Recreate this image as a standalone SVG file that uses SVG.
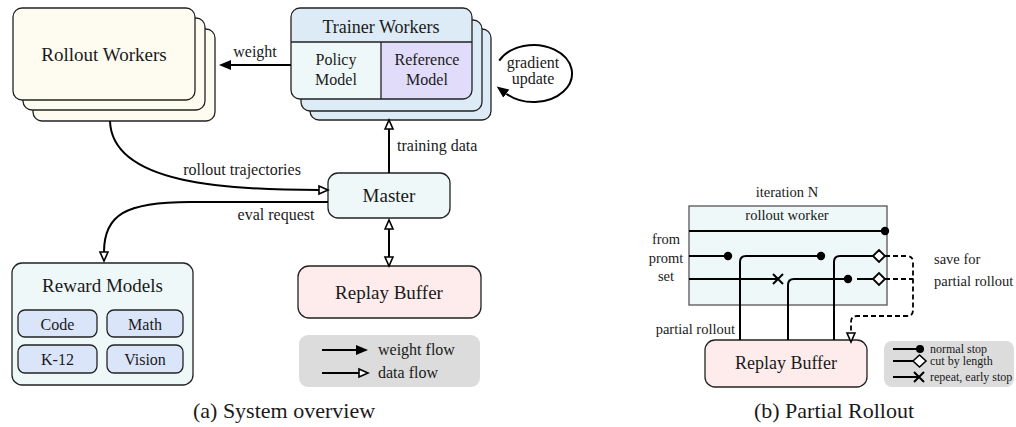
<svg xmlns="http://www.w3.org/2000/svg" width="1016" height="427" viewBox="0 0 1016 427" font-family="'Liberation Serif','Times New Roman',serif">
<style>
text{font-family:"Liberation Serif","Times New Roman",serif;fill:#1a1a1a}
.box{stroke:#222;stroke-width:1.3}
.c{text-anchor:middle}
.ln{fill:none;stroke:#000;stroke-width:2}
.dash{fill:none;stroke:#000;stroke-width:1.8;stroke-dasharray:5 3}
.t19{font-size:19px}.t18{font-size:18px}.t16{font-size:16px}.t14{font-size:14.5px}.t12{font-size:12px}.t22{font-size:22px}
</style>
<defs>
<marker id="af" markerUnits="userSpaceOnUse" markerWidth="14" markerHeight="12" refX="0" refY="6" orient="auto"><path d="M0,1 L12,6 L0,11 Z" fill="#000"/></marker>
<marker id="ah" markerUnits="userSpaceOnUse" markerWidth="12" markerHeight="12" refX="1" refY="6" orient="auto-start-reverse"><path d="M1,2 L10,6 L1,10 Z" fill="#fff" stroke="#000" stroke-width="1.6"/></marker>
</defs>
<rect width="1016" height="427" fill="#fff"/>

<g id="rollout-workers">
<rect class="box" x="33" y="29" width="182" height="92" rx="9" fill="#fefcf1"/>
<rect class="box" x="23" y="18" width="182" height="92" rx="9" fill="#fefcf1"/>
<rect class="box" x="13" y="8" width="182" height="92" rx="9" fill="#fefcf1"/>
<text class="t19 c" x="104" y="61">Rollout Workers</text>
</g>

<g id="trainer-workers">
<rect class="box" x="310" y="29" width="181" height="91" rx="9" fill="#dcebf5"/>
<rect class="box" x="301" y="20" width="181" height="91" rx="9" fill="#dcebf5"/>
<path d="M291,42 V17 Q291,8 300,8 H463 Q472,8 472,17 V42 Z" fill="#dcebf5"/>
<path d="M291,42 H381 V99 H300 Q291,99 291,90 Z" fill="#eef8f8"/>
<path d="M381,42 H472 V90 Q472,99 463,99 H381 Z" fill="#e1dcf9"/>
<path d="M291,42 H472 M381,42 V99" stroke="#222" stroke-width="1.3" fill="none"/>
<rect class="box" x="291" y="8" width="181" height="91" rx="9" fill="none"/>
<text class="t18 c" x="381" y="33">Trainer Workers</text>
<text class="t16 c" x="336" y="65">Policy</text>
<text class="t16 c" x="336" y="85">Model</text>
<text class="t16 c" x="427" y="65">Reference</text>
<text class="t16 c" x="427" y="85">Model</text>
</g>

<g id="master">
<rect class="box" x="328" y="173" width="122" height="45" rx="10" fill="#eef8f8"/>
<text class="t19 c" x="389" y="202">Master</text>
</g>

<g id="replay-buffer-a">
<rect class="box" x="298" y="266" width="183" height="52" rx="11" fill="#fdeceb"/>
<text class="t19 c" x="389" y="299">Replay Buffer</text>
</g>

<g id="reward-models">
<rect class="box" x="12" y="263" width="181" height="122" rx="10" fill="#eef8f8"/>
<text class="t19 c" x="102.5" y="292">Reward Models</text>
<rect class="box" x="18" y="310" width="79" height="27" rx="7" fill="#dbe5fa"/>
<rect class="box" x="107" y="310" width="76" height="27" rx="7" fill="#dbe5fa"/>
<rect class="box" x="18" y="345" width="79" height="28" rx="7" fill="#dbe5fa"/>
<rect class="box" x="107" y="345" width="76" height="28" rx="7" fill="#dbe5fa"/>
<text class="t16 c" x="57.5" y="330">Code</text>
<text class="t16 c" x="145" y="330">Math</text>
<text class="t16 c" x="57.5" y="365">K-12</text>
<text class="t16 c" x="145" y="365">Vision</text>
</g>

<g id="legend-a">
<rect x="299" y="335" width="181" height="52" rx="9" fill="#dcdcdc"/>
<path class="ln" d="M322,350 H356" marker-end="url(#af)"/>
<path class="ln" d="M322,373 H359" marker-end="url(#ah)"/>
<text class="t16" x="378" y="355">weight flow</text>
<text class="t16" x="378" y="378">data flow</text>
</g>

<g id="connectors-a">
<path class="ln" d="M291,65 H231" marker-end="url(#af)"/>
<path class="ln" d="M499.2,60.6 A38.5,28.5 0 1 1 506.3,93.7" marker-end="url(#af)"/>
<path class="ln" d="M110,121 C112,185 230,190 319,190" marker-end="url(#ah)"/>
<path class="ln" d="M389,173 V129" marker-end="url(#ah)"/>
<path class="ln" d="M389,229 V257" marker-start="url(#ah)" marker-end="url(#ah)"/>
<path class="ln" d="M328,202 H190 C125,202 104,215 104,252" marker-end="url(#ah)"/>
<text class="t16 c" x="255" y="57">weight</text>
<text class="t16 c" x="533" y="68">gradient</text>
<text class="t16 c" x="533" y="84">update</text>
<text class="t16 c" x="242" y="175">rollout trajectories</text>
<text class="t16" x="397" y="151">training data</text>
<text class="t16 c" x="276" y="220">eval request</text>
</g>

<text class="t22 c" x="284" y="418">(a) System overview</text>

<g id="rollout-worker">
<rect x="689" y="206" width="198" height="99" fill="#eef8f8" stroke="#555" stroke-width="1.3"/>
<text class="t14 c" x="787" y="220">rollout worker</text>
</g>
<text class="t14 c" x="787" y="197">iteration N</text>

<g id="replay-buffer-b">
<rect class="box" x="705" y="340" width="162" height="47" rx="10" fill="#fdeceb"/>
<text class="t18 c" x="786" y="369">Replay Buffer</text>
</g>

<g id="connectors-b">
<path class="ln" d="M689,231 H885"/>
<circle cx="885" cy="231" r="4.2"/>
<path class="ln" d="M689,256 H728"/>
<circle cx="728" cy="256" r="4.2"/>
<path class="ln" d="M740,340 V262 Q740,256 746,256 H821"/>
<circle cx="821" cy="256" r="4.2"/>
<path class="ln" d="M834,340 V262 Q834,256 840,256 H873"/>
<path class="ln" d="M689,279 H778"/>
<path d="M773,274 L783,284 M783,274 L773,284" stroke="#000" stroke-width="2"/>
<path class="ln" d="M788,340 V285 Q788,279 794,279 H848"/>
<circle cx="848" cy="279" r="4.2"/>
<path class="ln" d="M857,279 H873"/>
<path class="dash" d="M885,256 H907 Q913,256 913,262 V310 Q913,316 907,316 H857 Q851,316 851,322 V333" marker-end="url(#ah)"/>
<path class="dash" d="M885,279 H913"/>
<polygon points="873,256 879,250 885,256 879,262" fill="#fff" stroke="#000" stroke-width="1.8"/>
<polygon points="873,279 879,273 885,279 879,285" fill="#fff" stroke="#000" stroke-width="1.8"/>
<text class="t14 c" x="666" y="244">from</text>
<text class="t14 c" x="666" y="263">promt</text>
<text class="t14 c" x="666" y="281">set</text>
<text class="t14" x="934" y="264">save for</text>
<text class="t14" x="934" y="286">partial rollout</text>
<text class="t14" x="735" y="334" text-anchor="end">partial rollout</text>
</g>

<g id="legend-b">
<rect x="884" y="341" width="130" height="46" rx="8" fill="#dcdcdc"/>
<path class="ln" d="M893,349 H920"/>
<circle cx="920" cy="349" r="4"/>
<path class="ln" d="M893,361 H913"/>
<polygon points="913,361 919.5,355 926,361 919.5,367" fill="#fff" stroke="#000" stroke-width="1.6"/>
<path class="ln" d="M893,377 H919"/>
<path d="M914,372 L924,382 M924,372 L914,382" stroke="#000" stroke-width="2"/>
<text class="t12" x="930" y="353">normal stop</text>
<text class="t12" x="930" y="365">cut by length</text>
<text class="t12" x="930" y="381">repeat, early stop</text>
</g>

<text class="t22 c" x="834" y="418">(b) Partial Rollout</text>
</svg>
